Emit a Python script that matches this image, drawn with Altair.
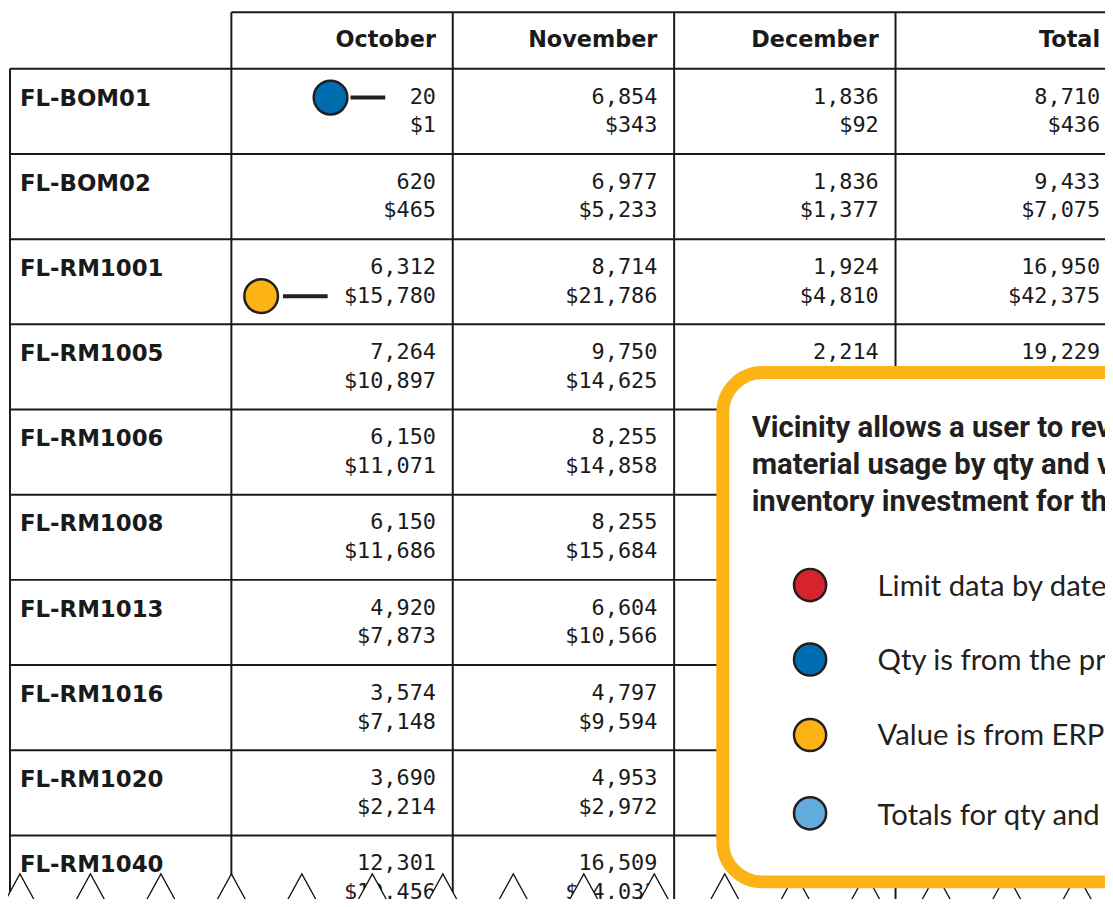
import altair as alt
import pandas as pd

# ---------------- data ----------------
items = ["FL-BOM01", "FL-BOM02", "FL-RM1001", "FL-RM1005", "FL-RM1006",
         "FL-RM1008", "FL-RM1013", "FL-RM1016", "FL-RM1020", "FL-RM1040"]
months = ["October", "November", "December", "Total"]

oct_qty = [20, 620, 6312, 7264, 6150, 6150, 4920, 3574, 3690, 12301]
oct_val = [1, 465, 15780, 10897, 11071, 11686, 7873, 7148, 2214, 10456]
nov_qty = [6854, 6977, 8714, 9750, 8255, 8255, 6604, 4797, 4953, 16509]
nov_val = [343, 5233, 21786, 14625, 14858, 15684, 10566, 9594, 2972, 14033]
# December / Total: only the cells not covered by the callout are visible
dec_qty = [1836, 1836, 1924, 2214]
dec_val = [92, 1377, 4810]
tot_qty = [8710, 9433, 16950, 19229]
tot_val = [436, 7075, 42375]

callout_lines = ["Vicinity allows a user to review",
                 "material usage by qty and value",
                 "inventory investment for the"]
legend_labels = ["Limit data by date", "Qty is from the pr",
                 "Value is from ERP", "Totals for qty and"]
legend_colors = ["#d7242c", "#006db0", "#fcb316", "#63acde"]

# ---------------- layout (table units: columns b, rows r) ----------------
W, H = 1105, 891
COLW, ROWH, X0PX, HEADPX = 223.0, 85.8, 2.0, 58.0
xs = alt.Scale(domain=[-X0PX / COLW, (W - X0PX) / COLW], nice=False, zero=False)
ys = alt.Scale(domain=[-HEADPX / ROWH, (H - HEADPX) / ROWH], nice=False, zero=False, reverse=True)
YBOT = (H - HEADPX) / ROWH + 0.2
HEAD_TOP = -0.664
RIGHT_PAD = 0.076
INK = "#1a1a1a"
DARK = "#231f20"


def X(f="x"):
    return alt.X(f"{f}:Q", scale=xs, axis=None)


def Y(f="y"):
    return alt.Y(f"{f}:Q", scale=ys, axis=None)


# grid lines
grid = []
grid.append(dict(x=1, x2=5.3, y=HEAD_TOP, y2=HEAD_TOP))
for r in range(0, len(items)):
    grid.append(dict(x=0, x2=5.3, y=r, y2=r))
grid.append(dict(x=0, x2=0, y=0, y2=YBOT))
for b in range(1, 5):
    grid.append(dict(x=b, x2=b, y=HEAD_TOP, y2=YBOT))
grid_df = pd.DataFrame(grid)

# cells
cells = []
for c, (q, v) in enumerate(zip([oct_qty, nov_qty, dec_qty, tot_qty],
                               [oct_val, nov_val, dec_val, tot_val])):
    for i, val in enumerate(q):
        cells.append(dict(x=c + 2 - RIGHT_PAD, y=i + 0.326, t=f"{val:,}"))
    for i, val in enumerate(v):
        cells.append(dict(x=c + 2 - RIGHT_PAD, y=i + 0.664, t=f"${val:,}"))
cells_df = pd.DataFrame(cells)

labels_df = pd.DataFrame(dict(x=[0.045] * len(items), y=[i + 0.35 for i in range(len(items))], t=items))
head_df = pd.DataFrame(dict(x=[c + 2 - RIGHT_PAD for c in range(len(months))],
                            y=[-0.338] * len(months), t=months))

lines = alt.Chart(grid_df).mark_rule(color=INK, strokeWidth=2).encode(
    x=X("x"), x2="x2:Q", y=Y("y"), y2="y2:Q")

cell_text = alt.Chart(cells_df).mark_text(
    align="right", baseline="middle", font="DejaVu Sans Mono", fontSize=22, color=INK
).encode(x=X(), y=Y(), text="t:N")

label_text = alt.Chart(labels_df).mark_text(
    align="left", baseline="middle", font="DejaVu Sans", fontWeight="bold", fontSize=23, color=INK
).encode(x=X(), y=Y(), text="t:N")

head_text = alt.Chart(head_df).mark_text(
    align="right", baseline="middle", font="DejaVu Sans", fontWeight="bold", fontSize=22.5, color=INK
).encode(x=X(), y=Y(), text="t:N")

# in-table markers (qty and value callouts)
marker_df = pd.DataFrame(dict(x=[1.448, 1.1345], y=[0.338, 2.669], c=[legend_colors[1], legend_colors[2]]))
conn_df = pd.DataFrame(dict(x=[1.538, 1.233], x2=[1.695, 1.435], y=[0.338, 2.669]))
conn = alt.Chart(conn_df).mark_rule(color=DARK, strokeWidth=4).encode(x=X("x"), x2="x2:Q", y=Y("y"))
markers = alt.Chart(marker_df).mark_point(
    shape="circle", size=1150, filled=True, stroke=DARK, strokeWidth=2.5, opacity=1
).encode(x=X(), y=Y(), fill=alt.Fill("c:N", scale=None))

# torn bottom edge
tri_df = pd.DataFrame(dict(k=list(range(16))))
tri_df["x"] = (12 + 71 * tri_df["k"] - X0PX) / COLW
tri_df["y"] = (889 - HEADPX) / ROWH
tri = alt.Chart(tri_df).mark_point(
    shape="M-1.1,1L0,-1L1.1,1Z", size=1600, filled=True, fill="white",
    stroke="#111111", strokeWidth=1.3, opacity=1
).encode(x=X(), y=Y())

# callout box
box_df = pd.DataFrame(dict(x=[3.2197], x2=[5.4], y=[3.566], y2=[9.545]))
box = alt.Chart(box_df).mark_rect(
    cornerRadius=40, fill="white", stroke="#fcb316", strokeWidth=13
).encode(x=X("x"), x2="x2:Q", y=Y("y"), y2="y2:Q")

callout_df = pd.DataFrame(dict(x=[3.35] * 3, y=[4.324, 4.755, 5.186], t=callout_lines))
callout_text = alt.Chart(callout_df).mark_text(
    align="left", baseline="alphabetic", font="Roboto", fontWeight="bold", fontSize=29.5, color=DARK
).encode(x=X(), y=Y(), text="t:N")

leg_df = pd.DataFrame(dict(x=[3.614] * 4, y=[6.061, 6.935, 7.821, 8.741], c=legend_colors,
                           tx=[3.919] * 4, ty=[6.189, 7.063, 7.937, 8.881], t=legend_labels))
leg_dots = alt.Chart(leg_df).mark_point(
    shape="circle", size=1050, filled=True, stroke=DARK, strokeWidth=2.5, opacity=1
).encode(x=X(), y=Y(), fill=alt.Fill("c:N", scale=None))
leg_text = alt.Chart(leg_df).mark_text(
    align="left", baseline="alphabetic", font="Lato", fontSize=29.5, color=DARK
).encode(x=X("tx"), y=Y("ty"), text="t:N")

chart = alt.layer(
    lines, cell_text, label_text, head_text, conn, markers, tri, box, callout_text, leg_dots, leg_text
).properties(
    width=W, height=H, autosize=alt.AutoSizeParams(type="none"), padding=0, background="white"
).configure_view(strokeWidth=0)

chart.save("out.html", embed_options={"renderer": "svg", "actions": False})
